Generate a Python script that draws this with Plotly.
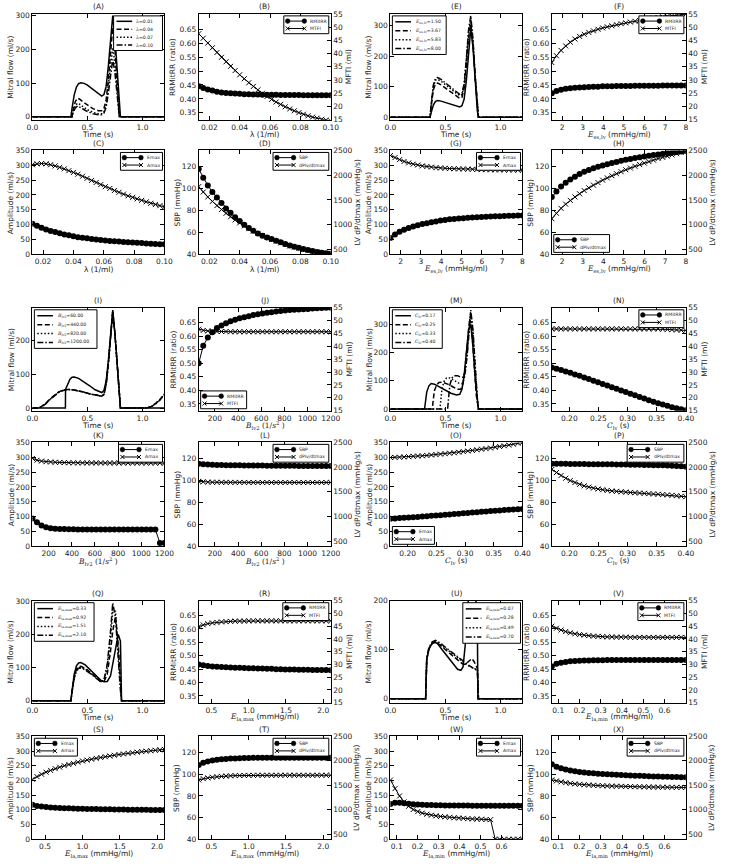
import plotly.graph_objects as go
import numpy as np

# ---------------- data ----------------
lam = np.linspace(0.013, 0.10, 30)
ees = np.linspace(1.5, 8.0, 30)
blv2 = np.linspace(60, 1200, 30)
clv = np.linspace(0.17, 0.40, 30)
elamax = np.linspace(0.33, 2.10, 30)
elamin = np.linspace(0.07, 0.70, 30)

# (A) mitral flow, lambda
tA1 = [0, 0.35, 0.36, 0.38, 0.40, 0.42, 0.44, 0.47, 0.50, 0.54, 0.58, 0.61, 0.63, 0.65, 0.67, 0.69, 0.71, 0.73, 0.75, 0.77, 0.79, 0.80, 1.2]
qA1 = [0, 0, 25, 65, 88, 98, 101, 99, 94, 84, 72, 64, 61, 66, 90, 150, 235, 300, 235, 140, 45, 0, 0]
tA2 = [0, 0.36, 0.37, 0.39, 0.41, 0.43, 0.46, 0.50, 0.55, 0.60, 0.63, 0.65, 0.67, 0.69, 0.71, 0.73, 0.75, 0.77, 0.79, 1.2]
qA2 = [0, 0, 20, 45, 55, 52, 44, 34, 24, 18, 18, 25, 50, 110, 200, 265, 200, 110, 0, 0]
qA3 = [0, 0, 15, 33, 40, 37, 30, 21, 13, 9, 9, 15, 35, 85, 150, 205, 160, 85, 0, 0]
qA4 = [0, 0, 12, 26, 32, 29, 23, 15, 9, 6, 6, 11, 28, 70, 125, 170, 130, 70, 0, 0]
labA = ["0.01", "0.04", "0.07", "0.10"]

# (E) mitral flow, Ees
tE = [0, 0.36, 0.37, 0.39, 0.41, 0.43, 0.46, 0.50, 0.55, 0.60, 0.63, 0.65, 0.67, 0.69, 0.71, 0.73, 0.75, 0.77, 0.79, 0.80, 1.2]
qE1 = [0, 0, 15, 40, 52, 55, 53, 48, 42, 36, 34, 38, 60, 120, 220, 290, 230, 120, 20, 0, 0]
qE2 = [0, 0, 35, 90, 110, 112, 106, 95, 82, 68, 62, 65, 95, 170, 260, 305, 240, 130, 25, 0, 0]
qE3 = [0, 0, 40, 100, 122, 124, 118, 106, 92, 78, 71, 74, 105, 185, 275, 320, 250, 135, 25, 0, 0]
qE4 = [0, 0, 42, 105, 128, 130, 124, 112, 97, 82, 75, 78, 110, 190, 285, 332, 255, 138, 25, 0, 0]
labE = ["1.50", "3.67", "5.83", "8.00"]

# (I) mitral flow, Blv2
tI1 = [0, 0.30, 0.301, 0.32, 0.34, 0.36, 0.38, 0.42, 0.47, 0.52, 0.57, 0.61, 0.63, 0.65, 0.67, 0.69, 0.71, 0.73, 0.75, 0.77, 0.79, 0.80, 1.2]
qI1 = [0, 0, 55, 72, 85, 91, 92, 88, 78, 66, 54, 47, 46, 52, 80, 140, 220, 290, 220, 120, 30, 0, 0]
tI2 = [0, 0.04, 0.08, 0.12, 0.16, 0.20, 0.24, 0.28, 0.32, 0.37, 0.42, 0.47, 0.52, 0.57, 0.61, 0.63, 0.65, 0.67, 0.69, 0.71, 0.73, 0.75, 0.77, 0.79, 0.80, 1.04, 1.08, 1.12, 1.16, 1.2]
qI2 = [0, 0, 4, 14, 27, 39, 48, 53, 55, 54, 51, 47, 42, 38, 35, 35, 40, 70, 130, 210, 285, 220, 120, 30, 0, 0, 5, 14, 26, 42]
qI3 = [0, 0, 3, 13, 26, 38, 47, 53, 55, 54, 51, 47, 42, 38, 35, 35, 40, 70, 130, 210, 286, 220, 120, 30, 0, 0, 4, 13, 25, 41]
qI4 = [0, 0, 3, 12, 25, 37, 47, 52, 55, 54, 51, 47, 42, 38, 35, 35, 40, 70, 130, 210, 286, 220, 120, 30, 0, 0, 4, 12, 24, 40]
labI = ["60.00", "440.00", "820.00", "1200.00"]

# (M) mitral flow, Clv
tM1 = [0, 0.31, 0.32, 0.33, 0.35, 0.37, 0.40, 0.45, 0.50, 0.55, 0.60, 0.63, 0.65, 0.67, 0.69, 0.71, 0.73, 0.75, 0.77, 0.79, 0.80, 1.2]
qM1 = [0, 0, 30, 60, 82, 90, 88, 78, 66, 56, 50, 52, 70, 120, 200, 280, 300, 220, 110, 25, 0, 0]
tM2 = [0, 0.38, 0.39, 0.40, 0.42, 0.44, 0.47, 0.52, 0.57, 0.61, 0.64, 0.66, 0.68, 0.70, 0.72, 0.74, 0.76, 0.78, 0.80, 1.2]
qM2 = [0, 0, 35, 65, 85, 94, 95, 88, 78, 70, 70, 90, 150, 240, 320, 280, 160, 50, 0, 0]
tM3 = [0, 0.45, 0.46, 0.47, 0.49, 0.51, 0.54, 0.58, 0.62, 0.65, 0.67, 0.69, 0.71, 0.73, 0.75, 0.77, 0.79, 0.80, 1.2]
qM3 = [0, 0, 40, 75, 100, 110, 110, 102, 92, 90, 105, 170, 270, 340, 270, 140, 30, 0, 0]
tM4 = [0, 0.52, 0.53, 0.54, 0.56, 0.58, 0.61, 0.64, 0.66, 0.68, 0.70, 0.72, 0.73, 0.75, 0.77, 0.79, 0.80, 1.2]
qM4 = [0, 0, 45, 85, 110, 118, 118, 112, 112, 130, 200, 300, 350, 280, 150, 35, 0, 0]
labM = ["0.17", "0.25", "0.33", "0.40"]

# (Q) mitral flow, Ela,max
tQ = [0, 0.35, 0.36, 0.38, 0.40, 0.42, 0.44, 0.48, 0.53, 0.58, 0.62, 0.65, 0.68, 0.71, 0.73, 0.755, 0.78, 0.80, 0.81, 1.2]
qQ1 = [0, 0, 30, 80, 105, 114, 115, 108, 92, 74, 62, 57, 58, 75, 110, 160, 200, 180, 0, 0]
qQ2 = [0, 0, 28, 72, 95, 103, 104, 98, 85, 70, 58, 57, 80, 150, 210, 255, 170, 60, 0, 0]
qQ3 = [0, 0, 27, 70, 92, 100, 101, 95, 83, 68, 57, 60, 100, 190, 270, 270, 140, 40, 0, 0]
qQ4 = [0, 0, 26, 68, 90, 98, 99, 93, 81, 67, 57, 62, 110, 210, 295, 250, 120, 30, 0, 0]
labQ = ["0.33", "0.92", "1.51", "2.10"]

# (U) mitral flow, Ela,min
tU1 = [0, 0.32, 0.325, 0.33, 0.35, 0.38, 0.40, 0.43, 0.47, 0.52, 0.57, 0.61, 0.64, 0.66, 0.68, 0.70, 0.72, 0.745, 0.77, 0.785, 0.79, 0.795, 1.2]
qU1 = [0, 0, 40, 80, 102, 113, 116, 112, 100, 85, 70, 60, 58, 65, 110, 190, 240, 250, 220, 180, 150, 0, 0]
tU2 = [0, 0.32, 0.325, 0.33, 0.35, 0.38, 0.41, 0.45, 0.50, 0.55, 0.60, 0.65, 0.68, 0.70, 0.72, 0.74, 0.76, 0.78, 0.79, 0.80, 1.2]
qU2 = [0, 0, 40, 80, 102, 113, 115, 110, 100, 90, 80, 72, 70, 74, 80, 82, 76, 66, 62, 0, 0]
qU3 = [0, 0, 40, 80, 103, 114, 117, 112, 103, 94, 85, 76, 71, 68, 66, 64, 62, 60, 59, 0, 0]
qU4 = [0, 0, 42, 82, 105, 116, 119, 114, 105, 96, 87, 78, 73, 70, 67, 64, 61, 58, 57, 0, 0]
labU = ["0.07", "0.28", "0.49", "0.70"]

# (B)
rr_B = [0.445, 0.439, 0.434, 0.430, 0.426, 0.423, 0.421, 0.420, 0.419, 0.418, 0.417, 0.417, 0.416, 0.416, 0.415, 0.415, 0.415, 0.415, 0.414, 0.414, 0.414, 0.414, 0.414, 0.413, 0.413, 0.413, 0.413, 0.413, 0.413, 0.413]
mfti_B = [47.5, 45.8, 44.0, 42.2, 40.4, 38.6, 36.9, 35.2, 33.6, 32.0, 30.5, 29.0, 27.6, 26.3, 25.0, 23.8, 22.7, 21.7, 20.8, 19.9, 19.1, 18.4, 17.7, 17.1, 16.5, 16.0, 15.6, 15.2, 14.9, 14.6]
# (C)
emax_C = [103, 96, 90, 84, 79, 75, 71, 67, 64, 61, 58, 56, 54, 52, 50, 48, 47, 45, 44, 43, 42, 41, 40, 39, 38, 37, 36, 35, 34.5, 34]
amax_C = [302, 305, 306, 305, 302, 298, 293, 288, 282, 276, 270, 263, 256, 249, 242, 235, 228, 222, 215, 209, 203, 197, 192, 187, 182, 177, 172, 168, 164, 160]
# (D)
sbp_D = [118, 110, 103, 97, 92, 87, 82, 78, 74, 70.5, 67, 64, 61.5, 59, 57, 55.5, 54, 52.5, 51, 49.5, 48, 47, 46, 45, 44, 43, 42.2, 41.5, 41, 40.5]
dpdt_D = [1770, 1660, 1560, 1470, 1385, 1305, 1230, 1160, 1095, 1035, 975, 920, 870, 825, 780, 740, 700, 665, 630, 600, 570, 545, 520, 500, 480, 462, 447, 433, 422, 412]
# (F)
rr_F = [0.420, 0.428, 0.433, 0.436, 0.438, 0.440, 0.441, 0.442, 0.443, 0.444, 0.444, 0.445, 0.445, 0.445, 0.446, 0.446, 0.446, 0.446, 0.447, 0.447, 0.447, 0.447, 0.447, 0.447, 0.448, 0.448, 0.448, 0.448, 0.448, 0.448]
mfti_F = [36.6, 39.2, 41.2, 42.9, 44.3, 45.5, 46.5, 47.3, 48.0, 48.6, 49.2, 49.7, 50.1, 50.5, 50.9, 51.3, 51.6, 51.9, 52.2, 52.5, 52.8, 53.1, 53.4, 53.6, 53.9, 54.1, 54.3, 54.5, 54.7, 54.9]
# (G)
emax_G = [55, 67, 76, 83, 89, 94, 98, 102, 105, 108, 111, 114, 116, 118, 119.5, 121, 122, 123, 124, 125, 126, 126.8, 127.5, 128, 128.6, 129.2, 129.7, 130.2, 130.6, 131]
amax_G = [333, 326, 319, 313, 308, 304, 301, 298, 296, 294, 292, 291, 290, 289, 288.5, 288, 287.5, 287, 286.5, 286, 285.5, 285.3, 285, 284.8, 284.6, 284.4, 284.2, 284, 283.8, 283.6]
# (H)
sbp_H = [92.4, 97.5, 102, 105.5, 108.5, 111, 113.5, 115.5, 117.2, 118.7, 120, 121.3, 122.5, 123.5, 124.5, 125.5, 126.4, 127.2, 128, 128.8, 129.5, 130.2, 130.8, 131.4, 132, 132.6, 133.1, 133.6, 134.1, 134.6]
dpdt_H = [1120, 1230, 1330, 1415, 1490, 1560, 1625, 1690, 1745, 1800, 1850, 1900, 1945, 1990, 2030, 2070, 2110, 2145, 2180, 2215, 2245, 2275, 2305, 2335, 2360, 2385, 2410, 2435, 2460, 2485]
# (J)
rr_J = [0.50, 0.565, 0.595, 0.615, 0.63, 0.64, 0.648, 0.655, 0.661, 0.666, 0.670, 0.674, 0.678, 0.681, 0.684, 0.687, 0.689, 0.691, 0.693, 0.695, 0.697, 0.698, 0.699, 0.700, 0.701, 0.702, 0.703, 0.704, 0.705, 0.705]
mfti_J = [46.7, 46.2, 46.0, 45.9, 45.8, 45.8, 45.8, 45.7, 45.7, 45.7, 45.7, 45.7, 45.7, 45.7, 45.7, 45.7, 45.7, 45.7, 45.7, 45.7, 45.7, 45.7, 45.7, 45.7, 45.7, 45.7, 45.7, 45.7, 45.7, 45.7]
# (K)
emax_K = [94, 81, 70, 64, 61, 59.5, 58.5, 58, 57.5, 57.2, 57, 57, 57, 57, 56.8, 56.8, 56.7, 56.7, 56.6, 56.6, 56.5, 56.5, 56.5, 56.5, 56.4, 56.4, 56.4, 56.4, 11, 11]
amax_K = [296, 290, 287, 285, 284, 283, 282.5, 282, 281.5, 281.2, 281, 281, 280.8, 280.8, 280.7, 280.7, 280.6, 280.6, 280.5, 280.5, 280.5, 280.5, 280.4, 280.4, 280.4, 280.4, 280.3, 280.3, 280.3, 280.3]
# (L)
sbp_L = [115.5, 115.0, 114.7, 114.5, 114.4, 114.3, 114.2, 114.1, 114.0, 114.0, 113.9, 113.9, 113.8, 113.8, 113.8, 113.7, 113.7, 113.7, 113.6, 113.6, 113.6, 113.6, 113.5, 113.5, 113.5, 113.5, 113.5, 113.4, 113.4, 113.4]
dpdt_L = [1712, 1702, 1697, 1695, 1694, 1693, 1692, 1692, 1691, 1691, 1690, 1690, 1690, 1690, 1690, 1690, 1690, 1690, 1690, 1690, 1690, 1690, 1690, 1690, 1690, 1690, 1690, 1690, 1690, 1690]
# (N)
rr_N = [0.485, 0.480, 0.475, 0.470, 0.465, 0.459, 0.454, 0.448, 0.442, 0.436, 0.430, 0.424, 0.418, 0.412, 0.406, 0.400, 0.394, 0.388, 0.382, 0.376, 0.370, 0.364, 0.358, 0.353, 0.348, 0.343, 0.338, 0.334, 0.330, 0.327]
mfti_N = [46.8, 46.8, 46.8, 46.8, 46.8, 46.8, 46.8, 46.8, 46.8, 46.8, 46.8, 46.8, 46.8, 46.8, 46.8, 46.8, 46.8, 46.8, 46.8, 46.8, 46.8, 46.8, 46.8, 46.8, 46.7, 46.6, 46.5, 46.4, 46.3, 46.2]
# (O)
emax_O = [93, 94, 95, 96, 97, 98, 99, 100.5, 101.5, 103, 104, 105, 106.5, 107.5, 109, 110, 111.5, 112.5, 114, 115, 116.5, 117.5, 119, 120, 121, 122, 123, 124, 125, 126]
amax_O = [299, 299.5, 300, 301, 302, 303, 304, 305, 306, 307.5, 309, 310.5, 312, 313.5, 315, 317, 319, 321, 323, 325, 327, 329, 331, 333.5, 336, 338.5, 341, 344, 347, 350]
# (P)
sbp_P = [115.5, 115.5, 115.4, 115.4, 115.3, 115.3, 115.2, 115.2, 115.1, 115.1, 115, 115, 114.9, 114.9, 114.8, 114.8, 114.7, 114.6, 114.6, 114.5, 114.4, 114.3, 114.2, 114.1, 114, 113.8, 113.6, 113.4, 113.1, 112.8]
dpdt_P = [1955, 1890, 1830, 1775, 1728, 1688, 1652, 1622, 1597, 1576, 1558, 1543, 1530, 1519, 1510, 1502, 1495, 1488, 1482, 1476, 1470, 1464, 1458, 1452, 1445, 1438, 1430, 1422, 1412, 1402]
# (R)
rr_R = [0.467, 0.464, 0.462, 0.460, 0.459, 0.458, 0.457, 0.456, 0.455, 0.455, 0.454, 0.453, 0.453, 0.452, 0.452, 0.451, 0.451, 0.450, 0.450, 0.449, 0.449, 0.449, 0.448, 0.448, 0.448, 0.447, 0.447, 0.447, 0.447, 0.446]
mfti_R = [44.8, 45.5, 46.0, 46.3, 46.5, 46.7, 46.8, 46.9, 47.0, 47.0, 47.0, 47.1, 47.1, 47.1, 47.1, 47.1, 47.1, 47.1, 47.1, 47.1, 47.1, 47.1, 47.1, 47.1, 47.1, 47.1, 47.1, 47.1, 47.1, 47.1]
# (S)
emax_S = [117, 113, 111, 109.5, 108, 107, 106, 105.5, 105, 104.5, 104, 103.5, 103, 102.7, 102.4, 102.1, 101.8, 101.5, 101.2, 101, 100.8, 100.6, 100.4, 100.2, 100, 99.8, 99.6, 99.4, 99.2, 99]
amax_S = [204, 213, 221, 228, 234, 240, 245, 250, 254, 258, 262, 266, 269, 272, 275, 278, 280.5, 283, 285.5, 288, 290, 292, 294, 296, 298, 299.5, 301, 302.5, 304, 305.5]
# (T)
sbp_T = [108.5, 110.5, 111.8, 112.7, 113.3, 113.8, 114.1, 114.4, 114.6, 114.8, 114.9, 115, 115.1, 115.1, 115.2, 115.2, 115.2, 115.3, 115.3, 115.3, 115.3, 115.3, 115.3, 115.3, 115.3, 115.3, 115.3, 115.2, 115.2, 115.2]
dpdt_T = [1610, 1635, 1652, 1665, 1675, 1683, 1689, 1694, 1698, 1700, 1702, 1703, 1704, 1705, 1705, 1705, 1705, 1705, 1705, 1705, 1705, 1705, 1705, 1705, 1705, 1705, 1705, 1705, 1705, 1705]
# (V)
rr_V = [0.460, 0.470, 0.474, 0.477, 0.479, 0.480, 0.481, 0.482, 0.482, 0.483, 0.483, 0.483, 0.484, 0.484, 0.484, 0.484, 0.484, 0.484, 0.484, 0.484, 0.484, 0.484, 0.484, 0.484, 0.484, 0.484, 0.484, 0.484, 0.484, 0.484]
mfti_V = [45.0, 44.2, 43.5, 42.9, 42.4, 42.0, 41.7, 41.5, 41.3, 41.1, 41.0, 40.9, 40.8, 40.8, 40.7, 40.7, 40.7, 40.6, 40.6, 40.6, 40.6, 40.6, 40.6, 40.6, 40.6, 40.6, 40.6, 40.6, 40.6, 40.6]
# (W)
emax_W = [120, 124, 124, 122, 120.5, 119, 118, 117, 116.5, 116, 115.5, 115.2, 115, 114.8, 114.6, 114.5, 114.4, 114.3, 114.2, 114.1, 114, 114, 114, 113.9, 113.9, 113.8, 113.8, 113.8, 113.7, 113.7]
amax_W = [201, 172, 147, 127, 112, 101, 94, 89, 85, 82, 79.5, 77.5, 76, 74.5, 73, 72, 71, 70, 69, 68.5, 68, 67, 66.5, 0, 0, 0, 0, 0, 0, 0]
# (X)
sbp_X = [109.3, 107, 105.5, 104.3, 103.4, 102.7, 102.1, 101.6, 101.2, 100.8, 100.5, 100.2, 99.9, 99.7, 99.5, 99.3, 99.1, 98.9, 98.7, 98.5, 98.3, 98.1, 97.9, 97.8, 97.7, 97.6, 97.5, 97.4, 97.3, 97.2]
dpdt_X = [1611, 1590, 1570, 1553, 1540, 1529, 1520, 1512, 1506, 1500, 1495, 1491, 1487, 1484, 1481, 1479, 1476, 1474, 1472, 1470, 1468, 1466, 1464, 1462, 1461, 1460, 1459, 1458, 1457, 1456]

# ---------------- layout helpers ----------------
W, H = 733, 865
FONT = "DejaVu Sans"
SERIF = "DejaVu Serif"
TXT = "#222222"
COLS = [(27, 162), (197, 332), (393, 528), (558, 695)]
ROWS = [(10, 117), (148, 253), (307, 411), (443, 548), (603, 706), (740, 844)]

def PX(x):
    return x / W

def PY(y):
    return 1 - y / H

def m(s):
    return '<span style="font-family:%s">%s</span>' % (SERIF, s)

XT_LAM = ("λ (1/ml)", [0.02, 0.04, 0.06, 0.08, 0.10], "{:.2f}", [0.013, 0.10])
XT_EES = (m("<i>E</i><sub>es,lv</sub>") + " (mmHg/ml)", [2, 3, 4, 5, 6, 7, 8], "{:.0f}", [1.5, 8.0])
XT_BLV = (m("<i>B</i><sub>lv2</sub> (1/<i>s</i><sup>2</sup> )"), [200, 400, 600, 800, 1000, 1200], "{:.0f}", [60, 1200])
XT_CLV = (m("<i>C</i><sub>lv</sub>") + " (s)", [0.20, 0.25, 0.30, 0.35, 0.40], "{:.2f}", [0.17, 0.40])
XT_EMX = (m("<i>E</i><sub>la,max</sub>") + " (mmHg/ml)", [0.5, 1.0, 1.5, 2.0], "{:.1f}", [0.33, 2.10])
XT_EMN = (m("<i>E</i><sub>la,min</sub>") + " (mmHg/ml)", [0.1, 0.2, 0.3, 0.4, 0.5, 0.6], "{:.1f}", [0.07, 0.70])
XT_TIME = ("Time (s)", [0.0, 0.5, 1.0], "{:.1f}", [0, 1.2])

DASHES = ["solid", "5px,2.5px", "1.5px,2px", "6px,2px,1.5px,2px"]

panels = [
    dict(L="A", r=0, c=0, kind="flow", xt=XT_TIME, yr=[-9, 305], yt=[0, 100, 200, 300],
         curves=[(tA1, qA1), (tA2, qA2), (tA2, qA3), (tA2, qA4)], labs=labA, lp=m("λ") + "=", leg="tr", lw=50, lh=8),
    dict(L="B", r=0, c=1, kind="rr", xt=XT_LAM, x=lam, y1=rr_B, y2=mfti_B, leg="tr", lw=46),
    dict(L="E", r=0, c=2, kind="flow", xt=XT_TIME, yr=[-8, 338], yt=[0, 100, 200, 300],
         curves=[(tE, qE1), (tE, qE2), (tE, qE3), (tE, qE4)], labs=labE, lp=m("<i>E</i><sub>es,lv</sub>") + "=", leg="tl", lw=55, lh=9),
    dict(L="F", r=0, c=3, kind="rr", xt=XT_EES, x=ees, y1=rr_F, y2=mfti_F, leg="tr", lw=46),
    dict(L="C", r=1, c=0, kind="amp", xt=XT_LAM, x=lam, y1=emax_C, y2=amax_C, leg="tr", lw=43),
    dict(L="D", r=1, c=1, kind="sbp", xt=XT_LAM, x=lam, y1=sbp_D, y2=dpdt_D, leg="tr", lw=57),
    dict(L="G", r=1, c=2, kind="amp", xt=XT_EES, x=ees, y1=emax_G, y2=amax_G, leg="tr", lw=45),
    dict(L="H", r=1, c=3, kind="sbp", xt=XT_EES, x=ees, y1=sbp_H, y2=dpdt_H, leg="bl", lw=57),
    dict(L="I", r=2, c=0, kind="flow", xt=XT_TIME, yr=[-8, 297], yt=[0, 100, 200],
         curves=[(tI1, qI1), (tI2, qI2), (tI2, qI3), (tI2, qI4)], labs=labI, lp=m("<i>B</i><sub>lv2</sub>") + "=", leg="tl", lw=64, lh=9),
    dict(L="J", r=2, c=1, kind="rr", xt=XT_BLV, x=blv2, y1=rr_J, y2=mfti_J, leg="bl", lw=47),
    dict(L="M", r=2, c=2, kind="flow", xt=XT_TIME, yr=[-6, 358], yt=[0, 100, 200, 300],
         curves=[(tM1, qM1), (tM2, qM2), (tM3, qM3), (tM4, qM4)], labs=labM, lp=m("<i>C</i><sub>lv</sub>") + "=", leg="tl", lw=51, lh=9),
    dict(L="N", r=2, c=3, kind="rr", xt=XT_CLV, x=clv, y1=rr_N, y2=mfti_N, leg="tr", lw=46),
    dict(L="K", r=3, c=0, kind="amp", xt=XT_BLV, x=blv2, y1=emax_K, y2=amax_K, leg="tr", lw=45),
    dict(L="L", r=3, c=1, kind="sbp", xt=XT_BLV, x=blv2, y1=sbp_L, y2=dpdt_L, leg="tr", lw=57),
    dict(L="O", r=3, c=2, kind="amp", xt=XT_CLV, x=clv, y1=emax_O, y2=amax_O, leg="bl", lw=43),
    dict(L="P", r=3, c=3, kind="sbp", xt=XT_CLV, x=clv, y1=sbp_P, y2=dpdt_P, leg="tr", lw=58),
    dict(L="Q", r=4, c=0, kind="flow", xt=XT_TIME, yr=[-6, 302], yt=[0, 100, 200, 300],
         curves=[(tQ, qQ1), (tQ, qQ2), (tQ, qQ3), (tQ, qQ4)], labs=labQ, lp=m("<i>E</i><sub>la,max</sub>") + "=", leg="tl", lw=61, lh=9),
    dict(L="R", r=4, c=1, kind="rr", xt=XT_EMX, x=elamax, y1=rr_R, y2=mfti_R, leg="tr", lw=47),
    dict(L="U", r=4, c=2, kind="flow", xt=XT_TIME, yr=[-8, 200], yt=[0, 100, 200],
         curves=[(tU1, qU1), (tU2, qU2), (tU2, qU3), (tU2, qU4)], labs=labU, lp=m("<i>E</i><sub>la,min</sub>") + "=", leg="tr", lw=59, lh=9.5),
    dict(L="V", r=4, c=3, kind="rr", xt=XT_EMN, x=elamin, y1=rr_V, y2=mfti_V, leg="tr", lw=47),
    dict(L="S", r=5, c=0, kind="amp", xt=XT_EMX, x=elamax, y1=emax_S, y2=amax_S, leg="tl", lw=44),
    dict(L="T", r=5, c=1, kind="sbp", xt=XT_EMX, x=elamax, y1=sbp_T, y2=dpdt_T, leg="tr", lw=57),
    dict(L="W", r=5, c=2, kind="amp", xt=XT_EMN, x=elamin, y1=emax_W, y2=amax_W, leg="tr", lw=45),
    dict(L="X", r=5, c=3, kind="sbp", xt=XT_EMN, x=elamin, y1=sbp_X, y2=dpdt_X, leg="tr", lw=58),
]

KIND = {
    "rr": dict(yr=[0.325, 0.705], yt=[0.35, 0.40, 0.45, 0.50, 0.55, 0.60, 0.65], yf="{:.2f}", ytitle="RRMitRR (ratio)", yoff=26,
               y2r=[15, 55], y2t=[15, 20, 25, 30, 35, 40, 45, 50, 55], y2title="MFTI (ml)", y2off=19, labs=["RMitRR", "MTFI"]),
    "amp": dict(yr=[0, 350], yt=[0, 50, 100, 150, 200, 250, 300, 350], yf="{:.0f}", ytitle="Amplitude (ml/s)", yoff=22,
                labs=["Emax", "Amax"]),
    "sbp": dict(yr=[40, 135], yt=[40, 60, 80, 100, 120], yf="{:.0f}", ytitle="SBP (mmHg)", yoff=22,
                y2r=[400, 2500], y2t=[500, 1000, 1500, 2000, 2500], y2title="LV dP/dtmax (mmHg/s)", y2off=27, labs=["SBP", "dPlv/dtmax"]),
    "flow": dict(yf="{:.0f}", ytitle="Mitral flow (ml/s)", yoff=22),
}

AX = dict(showline=True, linecolor="black", linewidth=1, ticks="inside", ticklen=4, tickwidth=1,
          tickcolor="black", showgrid=False, zeroline=False,
          tickfont=dict(size=7.5, color=TXT, family=FONT))

fig = go.Figure()
layout = dict(width=W, height=H, margin=dict(l=0, r=0, t=0, b=0), paper_bgcolor="white",
              plot_bgcolor="white", showlegend=False, font=dict(family=FONT, color=TXT))
shapes, annots = [], []

def ann(text, x, y, size=7.5, angle=0, xa="center", ya="middle", fam=FONT):
    annots.append(dict(text=text, x=PX(x), y=PY(y), xref="paper", yref="paper", showarrow=False,
                       textangle=angle, xanchor=xa, yanchor=ya, borderpad=0,
                       font=dict(size=size, color=TXT, family=fam)))

def legend(box, corner, entries, width, rh, tsize):
    L, R, T, B = box
    n = len(entries)
    h = n * rh + 3
    if corner == "tr":
        bx0, by0 = R - 2 - width, T + 2
    elif corner == "tl":
        bx0, by0 = L + 2, T + 2
    else:
        bx0, by0 = L + 2, B - 2 - h
    bx1, by1 = bx0 + width, by0 + h
    shapes.append(dict(type="rect", xref="paper", yref="paper", x0=PX(bx0), x1=PX(bx1), y0=PY(by1), y1=PY(by0),
                       line=dict(color="black", width=1), fillcolor="white", layer="above"))
    for i, (lab, dash, mk) in enumerate(entries):
        cy = by0 + 1.5 + rh * (i + 0.5)
        if mk is None:
            lx0, lx1 = bx0 + 3, bx0 + 19
        else:
            lx0, lx1 = bx0 + 4, bx0 + 21
        shapes.append(dict(type="line", xref="paper", yref="paper", x0=PX(lx0), x1=PX(lx1), y0=PY(cy), y1=PY(cy),
                           line=dict(color="black", width=1.5 if mk is None else 1, dash=dash), layer="above"))
        for mx in (lx0, lx1):
            if mk == "o":
                r = 2.4
                shapes.append(dict(type="circle", xref="paper", yref="paper", x0=PX(mx - r), x1=PX(mx + r),
                                   y0=PY(cy + r), y1=PY(cy - r), fillcolor="black", line=dict(color="black", width=0.5), layer="above"))
            elif mk == "x":
                r = 2.0
                for sgn in (1, -1):
                    shapes.append(dict(type="line", xref="paper", yref="paper", x0=PX(mx - r), x1=PX(mx + r),
                                       y0=PY(cy - sgn * r), y1=PY(cy + sgn * r), line=dict(color="black", width=1), layer="above"))
        ann(lab, lx1 + (5 if mk else 3), cy, size=tsize, xa="left")

for n, p in enumerate(panels, start=1):
    L, R = COLS[p["c"]]
    T, B = ROWS[p["r"]]
    k = KIND[p["kind"]]
    xs = "x" if n == 1 else "x%d" % n
    ys = "y" if n == 1 else "y%d" % n
    xkey = "xaxis" if n == 1 else "xaxis%d" % n
    ykey = "yaxis" if n == 1 else "yaxis%d" % n
    xtitle, xtv, xfmt, xr = p["xt"]
    dual = p["kind"] in ("rr", "sbp")
    layout[xkey] = dict(AX, domain=[PX(L), PX(R)], anchor=ys, range=xr, tickvals=xtv,
                        ticktext=[xfmt.format(v) for v in xtv], mirror="ticks")
    yr = p.get("yr", k.get("yr"))
    yt = p.get("yt", k.get("yt"))
    layout[ykey] = dict(AX, domain=[PY(B), PY(T)], anchor=xs, range=yr, tickvals=yt,
                        ticktext=[k["yf"].format(v) for v in yt], mirror=True if dual else "ticks")
    if dual:
        y2n = 24 + n
        y2s = "y%d" % y2n
        layout["yaxis%d" % y2n] = dict(AX, overlaying=ys, side="right", anchor=xs, range=k["y2r"],
                                       tickvals=k["y2t"], ticktext=[str(v) for v in k["y2t"]])
    # traces
    if p["kind"] == "flow":
        for (t, q), d in zip(p["curves"], DASHES):
            fig.add_trace(go.Scatter(x=t, y=q, xaxis=xs, yaxis=ys, mode="lines",
                                     line=dict(color="black", width=1.5, dash=d)))
        entries = [(p["lp"] + v, d, None) for v, d in zip(p["labs"], DASHES)]
        legend((L, R, T, B), p["leg"], entries, p["lw"], p["lh"], 4.6)
    else:
        fig.add_trace(go.Scatter(x=p["x"], y=p["y1"], xaxis=xs, yaxis=ys, mode="lines+markers",
                                 line=dict(color="black", width=1),
                                 marker=dict(symbol="circle", size=6, color="black")))
        fig.add_trace(go.Scatter(x=p["x"], y=p["y2"], xaxis=xs, yaxis=y2s if dual else ys, mode="lines+markers",
                                 line=dict(color="black", width=1),
                                 marker=dict(symbol="x-thin", size=5, color="black", line=dict(width=1, color="black"))))
        entries = [(k["labs"][0], "solid", "o"), (k["labs"][1], "solid", "x")]
        legend((L, R, T, B), p["leg"], entries, p["lw"], 7.5, 4.6)
    # titles
    ann("(%s)" % p["L"], (L + R) / 2, T - 1.5, ya="bottom")
    ann(xtitle, (L + R) / 2, B + 15)
    ann(k["ytitle"], L - k["yoff"], (T + B) / 2, angle=-90)
    if dual:
        ann(k["y2title"], R + k["y2off"], (T + B) / 2, angle=-90)

layout["shapes"] = shapes
layout["annotations"] = annots
fig.update_layout(**layout)
fig.write_html("out.html")
